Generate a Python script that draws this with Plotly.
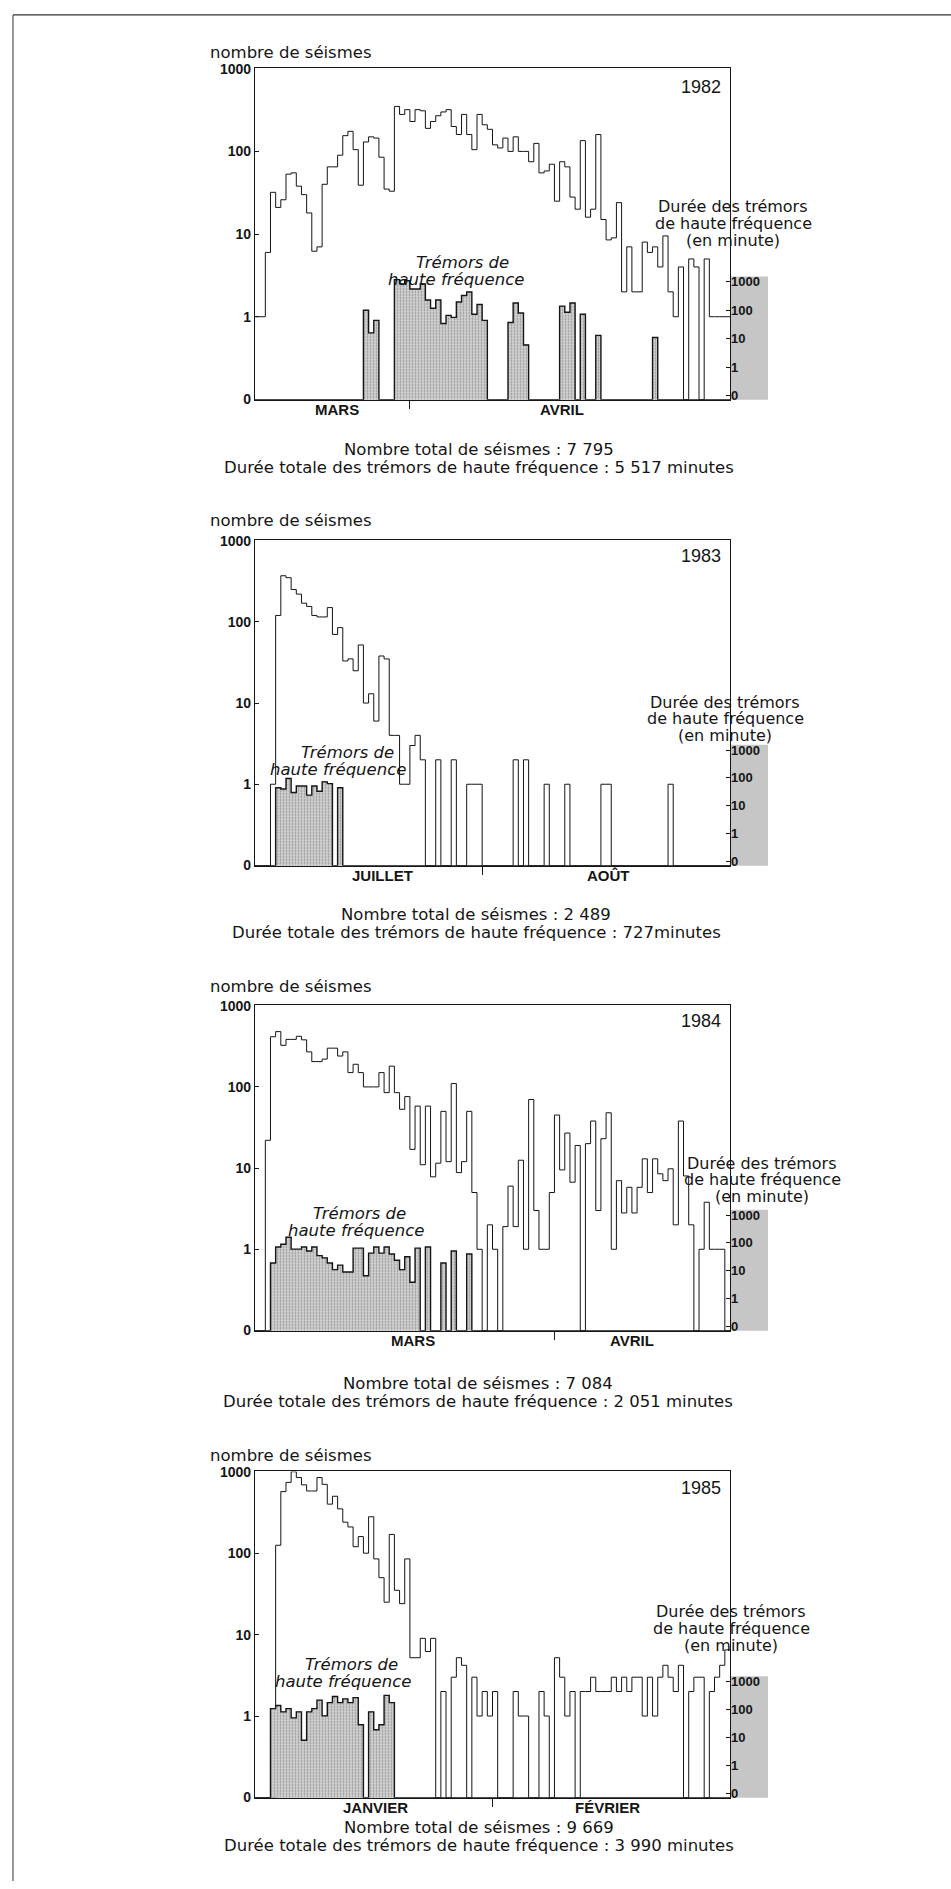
import plotly.graph_objects as go

W, H = 951, 1889
N_DAYS = 92

# ---------------- data ----------------
# daily number of earthquakes (0 = no earthquake)
quakes_1982 = [1, 1, 6, 32, 21, 26, 53, 55, 38, 30, 18, 6.2, 7, 40, 65, 65, 90, 155, 175, 105,
               39, 130, 150, 145, 85, 35, 33, 350, 280, 320, 230, 320, 310, 190, 230, 270, 300, 320, 200, 160,
               280, 160, 105, 280, 210, 185, 120, 110, 145, 100, 150, 100, 100, 75, 125, 55, 58, 70, 25, 75,
               65, 28, 20, 135, 16, 20, 160, 15, 8.5, 9, 24, 2, 7, 2, 2, 8, 6, 7, 4, 9.5,
               2, 1, 4, 0, 5, 4, 0, 5, 1, 1, 1, 1]
quakes_1983 = [0, 0, 0, 1, 120, 370, 350, 250, 220, 170, 155, 120, 115, 115, 150, 70, 85, 33, 35, 25,
               52, 10, 13, 6, 38, 35, 4, 4, 1, 1, 3, 4, 2, 0, 0, 2, 0, 0, 2, 0,
               0, 1, 1, 1, 0, 0, 0, 0, 0, 0, 2, 0, 2, 0, 0, 0, 1, 0, 0, 0,
               1, 0, 0, 0, 0, 0, 0, 1, 1, 0, 0, 0, 0, 0, 0, 0, 0, 0, 0, 0,
               1, 0, 0, 0, 0, 0, 0, 0, 0, 0, 0, 0]
quakes_1984 = [0, 0, 22, 415, 480, 325, 385, 385, 420, 380, 270, 205, 205, 220, 300, 300, 240, 270, 150, 190,
               150, 100, 100, 100, 150, 85, 180, 85, 53, 76, 17, 58, 11, 58, 7.8, 11.5, 50, 12, 110, 8.8,
               12, 50, 5, 1, 0, 2, 1, 0, 1.9, 6, 1.9, 12.5, 1, 70, 3, 1, 1, 5, 45, 9.5,
               27, 6.7, 19, 0, 20, 38, 3, 23, 48, 1, 7, 2.8, 5.8, 2.8, 5.8, 13, 5, 13, 8.5, 7,
               9.8, 2, 38, 8, 2, 0, 1, 3.8, 1, 1, 1, 0]
quakes_1985 = [0, 0, 0, 0, 125, 570, 740, 1000, 850, 690, 580, 580, 850, 700, 400, 500, 350, 240, 210, 120,
               160, 100, 280, 85, 50, 25, 170, 35, 24, 85, 5.2, 5.2, 9, 6.2, 9, 0, 2, 0, 3, 5.2,
               4.2, 0, 3, 1, 2, 1, 2, 0, 0, 0, 2, 1, 1, 0, 0, 2, 1, 0, 5.2, 3,
               1, 2, 0, 2, 2, 3, 2, 2, 2, 3, 2, 3, 2, 3, 3, 1, 3, 1, 3, 4.2,
               3, 2, 4.2, 0, 2, 3, 3, 0, 2, 3, 4.2, 6.5]

# high-frequency tremor: day index and duration (minutes)
tremor_days_1982 = [21, 22, 23, 27, 28, 29, 30, 31, 32, 33, 34, 35, 36, 37, 38, 39, 40, 41, 42, 43, 44,
                    49, 50, 51, 52, 59, 60, 61, 63, 66, 77]
tremor_min_1982 = [100, 16, 44, 1200, 850, 1100, 560, 560, 850, 230, 118, 230, 34, 66, 56, 195, 330, 440, 72, 160, 44,
                   37, 180, 80, 6, 140, 85, 180, 72, 13, 11]
tremor_days_1983 = [4, 5, 6, 7, 8, 9, 10, 11, 12, 13, 14, 16]
tremor_min_1983 = [44, 40, 95, 30, 51, 51, 24, 51, 33, 72, 62, 44]
tremor_days_1984 = [3, 4, 5, 6, 7, 8, 9, 10, 11, 12, 13, 14, 15, 16, 17, 18, 19, 20, 21, 22, 23, 24, 25, 26, 27,
                    28, 29, 30, 31, 33, 36, 38, 41]
tremor_min_1984 = [19, 71, 90, 160, 60, 60, 71, 51, 71, 35, 29, 19, 11, 16, 9, 9, 65, 65, 6.6, 43, 71, 43, 71, 40, 24,
                   11, 32, 3.9, 65, 71, 19, 51, 40]
tremor_days_1985 = [3, 4, 5, 6, 7, 8, 9, 10, 11, 12, 13, 14, 15, 16, 17, 18, 19, 20, 22, 23, 24, 25, 26]
tremor_min_1985 = [109, 141, 83, 109, 51, 83, 8, 83, 109, 220, 60, 178, 296, 178, 244, 178, 270, 29, 83, 19, 29, 325, 178]

years = ["1982", "1983", "1984", "1985"]
month_labels = [["MARS", "AVRIL"], ["JUILLET", "AOÛT"], ["MARS", "AVRIL"], ["JANVIER", "FÉVRIER"]]
month_label_pos = [[15.9, 59.5], [24.6, 68.5], [30.6, 73.1], [23.3, 68.2]]
month_boundary = [30, 44, 58, 46]
total_quakes = ["7 795", "2 489", "7 084", "9 669"]
total_tremor = ["5 517 minutes", "727minutes", "2 051 minutes", "3 990 minutes"]
quakes = [quakes_1982, quakes_1983, quakes_1984, quakes_1985]
tremor_days = [tremor_days_1982, tremor_days_1983, tremor_days_1984, tremor_days_1985]
tremor_min = [tremor_min_1982, tremor_min_1983, tremor_min_1984, tremor_min_1985]

scale_ticks = [0.1, 1, 10, 100, 1000]
scale_ticktext = ["0", "1", "10", "100", "1000"]

# ---------------- layout geometry (pixels) ----------------
X0, X1 = 255, 730
geom = [
    dict(top=61, bot=395, title=45, year=80, trem=[(462, 257), (456, 274)], dcx=733, dys=[200, 217, 234], bys=[445, 463], bcx=479),
    dict(top=537, bot=865, title=517, year=553, trem=[(347, 751), (338, 768)], dcx=725, dys=[700, 717, 734], bys=[914, 932], bcx=476),
    dict(top=1006, bot=1334, title=987, year=1022, trem=[(359, 1216), (356, 1233)], dcx=762, dys=[1165, 1182, 1199], bys=[1387, 1405], bcx=478),
    dict(top=1476, bot=1805, title=1460, year=1493, trem=[(351, 1671), (343, 1688)], dcx=731, dys=[1617, 1634, 1651], bys=[1835, 1853], bcx=479),
]

LO_L, HI_L = -1.003, 3.003
LO_R = -1.15
HI_R = LO_R + 11.67
base_l = 10 ** LO_L
base_r = 10 ** LO_R

SANS = "Liberation Sans, Arial, sans-serif"
WIDE = "DejaVu Sans, sans-serif"
INK = "#151515"


def py(y):
    return 1 - y / H


fig = go.Figure()
annotations = []
shapes = []
layout = {}

for i in range(4):
    k = i + 1
    g = geom[i]
    xname = "x" if k == 1 else f"x{k}"
    yl = "y" if k == 1 else f"y{2 * k - 1}"
    yr = f"y{2 * k}"
    xkey = "xaxis" if k == 1 else f"xaxis{k}"
    ylkey = "yaxis" if k == 1 else f"yaxis{2 * k - 1}"
    yrkey = f"yaxis{2 * k}"

    days = list(range(N_DAYS + 1))
    q = quakes[i]
    qy = [v if v > 0 else base_l for v in q]
    qy = qy + [qy[-1]]

    trem = [0] * N_DAYS
    for d, m in zip(tremor_days[i], tremor_min[i]):
        trem[d] = m
    ty = [v if v > 0 else base_r for v in trem]
    ty = ty + [ty[-1]]

    # tremor bars (stippled)
    fig.add_trace(go.Bar(
        x=tremor_days[i], y=tremor_min[i], width=1, offset=0,
        xaxis=xname, yaxis=yr,
        marker=dict(color="#d3d3d3", line=dict(width=0),
                    pattern=dict(shape=".", fgcolor="#5a5a5a", size=3, solidity=0.3)),
        showlegend=False, hoverinfo="skip"))
    # tremor outline
    fig.add_trace(go.Scatter(
        x=days, y=ty, mode="lines", line=dict(shape="hv", color=INK, width=1.4),
        xaxis=xname, yaxis=yr, showlegend=False, hoverinfo="skip"))
    # earthquakes
    fig.add_trace(go.Scatter(
        x=days, y=qy, mode="lines", line=dict(shape="hv", color=INK, width=1),
        xaxis=xname, yaxis=yl, showlegend=False, hoverinfo="skip"))

    ydom = [py(g["bot"]), py(g["top"])]
    layout[xkey] = dict(
        domain=[X0 / W, X1 / W], anchor=yl, range=[0, N_DAYS],
        showline=True, mirror=True, linecolor=INK, linewidth=1.3,
        showgrid=False, zeroline=False, showticklabels=False, ticks="",
        minor=dict(tickmode="array", tickvals=[month_boundary[i]], ticks="outside",
                   ticklen=8, tickwidth=1, tickcolor=INK, showgrid=False),
    )
    layout[ylkey] = dict(
        domain=ydom, anchor=xname, type="log", range=[LO_L, HI_L],
        tickmode="array", tickvals=scale_ticks, ticktext=scale_ticktext,
        ticks="inside", ticklen=4, tickwidth=1, tickcolor=INK,
        showline=True, mirror=True, linecolor=INK, linewidth=1.3,
        showgrid=False, zeroline=False,
        tickfont=dict(family=SANS, size=14, color=INK, weight="bold"),
    )
    layout[yrkey] = dict(
        overlaying=yl, side="right", anchor=xname, type="log", range=[LO_R, HI_R],
        tickmode="array", tickvals=scale_ticks, ticktext=scale_ticktext,
        ticks="inside", ticklen=4, tickwidth=1, tickcolor=INK,
        showline=False, showgrid=False, zeroline=False,
        tickfont=dict(family=SANS, size=13, color=INK, weight="bold"),
    )

    # month names under the axis
    for mx, mt in zip(month_label_pos[i], month_labels[i]):
        annotations.append(dict(x=mx, y=py(g["bot"] + 10), xref=xname, yref="paper",
                                text=f"<b>{mt}</b>", showarrow=False, xanchor="center", yanchor="middle",
                                font=dict(family=SANS, size=15, color=INK)))

    # gray strip behind the right (tremor) scale
    hpx = g["bot"] - g["top"]
    shapes.append(dict(type="rect", xref="paper", yref="paper",
                       x0=X1 / W, x1=(X1 + 38) / W,
                       y0=py(g["bot"]), y1=py(g["bot"] - 0.372 * hpx),
                       fillcolor="#c6c6c6", line=dict(width=0), layer="below"))

    annotations.append(dict(x=208 / W, y=py(g["title"]), xref="paper", yref="paper",
                            text="nombre de séismes", showarrow=False, xanchor="left", yanchor="middle",
                            font=dict(family=WIDE, size=16.5, color=INK)))
    annotations.append(dict(x=723 / W, y=py(g["year"]), xref="paper", yref="paper",
                            text=years[i], showarrow=False, xanchor="right", yanchor="middle",
                            font=dict(family=SANS, size=18, color=INK)))
    for (tx, tyy), txt in zip(g["trem"], ["Trémors de", "haute fréquence"]):
        annotations.append(dict(x=tx / W, y=py(tyy), xref="paper", yref="paper",
                                text=f"<i>{txt}</i>", showarrow=False, xanchor="center", yanchor="middle",
                                font=dict(family=WIDE, size=16.5, color=INK)))
    for dy, txt in zip(g["dys"], ["Durée des trémors", "de haute fréquence", "(en minute)"]):
        annotations.append(dict(x=g["dcx"] / W, y=py(dy), xref="paper", yref="paper",
                                text=txt, showarrow=False, xanchor="center", yanchor="middle",
                                font=dict(family=WIDE, size=16, color=INK)))
    for by, txt in zip(g["bys"], [f"Nombre total de séismes : {total_quakes[i]}",
                                  f"Durée totale des trémors de haute fréquence : {total_tremor[i]}"]):
        annotations.append(dict(x=g["bcx"] / W, y=py(by), xref="paper", yref="paper",
                                text=txt, showarrow=False, xanchor="center", yanchor="middle",
                                font=dict(family=WIDE, size=16.5, color=INK)))

# page frame lines
shapes.append(dict(type="line", xref="paper", yref="paper", x0=13 / W, x1=1, y0=py(7), y1=py(7),
                   line=dict(color="#333", width=1.2)))
shapes.append(dict(type="line", xref="paper", yref="paper", x0=13 / W, x1=13 / W, y0=py(7), y1=0,
                   line=dict(color="#333", width=1)))

fig.update_layout(
    width=W, height=H, margin=dict(l=0, r=0, t=0, b=0),
    paper_bgcolor="white", plot_bgcolor="rgba(0,0,0,0)",
    barmode="overlay", bargap=0, showlegend=False,
    annotations=annotations, shapes=shapes,
    **layout,
)

fig.write_html("out.html")
